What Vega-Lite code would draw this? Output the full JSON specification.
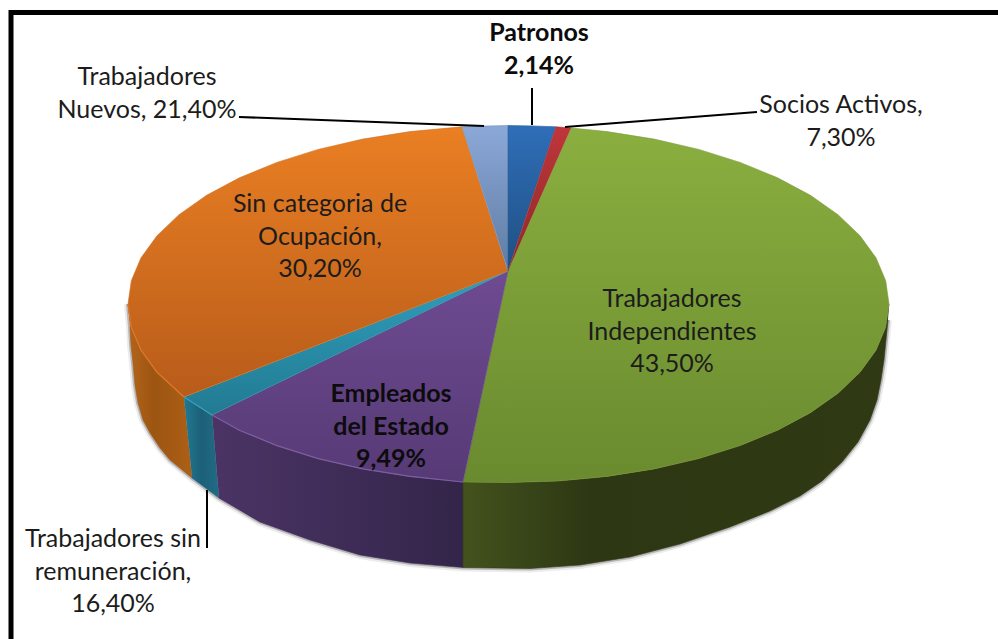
{"$schema":"https://vega.github.io/schema/vega-lite/v6.json","width":998,"height":639,"padding":0,"autosize":{"type":"none"},"background":"white","config":{"view":{"stroke":null}},
"datasets":{"shape":[
{"p":"sombra","i":1,"x":128,"y":304},{"p":"sombra","i":2,"x":130,"y":327},{"p":"sombra","i":3,"x":131,"y":345},{"p":"sombra","i":4,"x":133,"y":363},{"p":"sombra","i":5,"x":135,"y":385},{"p":"sombra","i":6,"x":138,"y":403},{"p":"sombra","i":7,"x":143,"y":420},{"p":"sombra","i":8,"x":150,"y":433},{"p":"sombra","i":9,"x":160,"y":448},{"p":"sombra","i":10,"x":170,"y":460},{"p":"sombra","i":11,"x":192,"y":478},{"p":"sombra","i":12,"x":219,"y":498},{"p":"sombra","i":13,"x":260,"y":522},{"p":"sombra","i":14,"x":310,"y":540},{"p":"sombra","i":15,"x":360,"y":555},{"p":"sombra","i":16,"x":410,"y":563},{"p":"sombra","i":17,"x":463,"y":567.5},{"p":"sombra","i":18,"x":530,"y":568.5},{"p":"sombra","i":19,"x":580,"y":565},{"p":"sombra","i":20,"x":630,"y":557},{"p":"sombra","i":21,"x":680,"y":544},{"p":"sombra","i":22,"x":730,"y":527},{"p":"sombra","i":23,"x":770,"y":511},{"p":"sombra","i":24,"x":800,"y":496},{"p":"sombra","i":25,"x":822,"y":481},{"p":"sombra","i":26,"x":842,"y":462},{"p":"sombra","i":27,"x":858,"y":442},{"p":"sombra","i":28,"x":870,"y":420},{"p":"sombra","i":29,"x":877,"y":400},{"p":"sombra","i":30,"x":881,"y":380},{"p":"sombra","i":31,"x":884,"y":360},{"p":"sombra","i":32,"x":886,"y":340},{"p":"sombra","i":33,"x":888,"y":320},
{"p":"pared naranja","i":1,"x":128,"y":304},{"p":"pared naranja","i":2,"x":131.3,"y":327.3},{"p":"pared naranja","i":3,"x":141,"y":350.2},{"p":"pared naranja","i":4,"x":157,"y":372.3},{"p":"pared naranja","i":5,"x":184,"y":397},{"p":"pared naranja","i":6,"x":192,"y":478},{"p":"pared naranja","i":7,"x":170,"y":460},{"p":"pared naranja","i":8,"x":160,"y":448},{"p":"pared naranja","i":9,"x":150,"y":433},{"p":"pared naranja","i":10,"x":143,"y":420},{"p":"pared naranja","i":11,"x":138,"y":403},{"p":"pared naranja","i":12,"x":135,"y":385},{"p":"pared naranja","i":13,"x":133,"y":363},{"p":"pared naranja","i":14,"x":131,"y":345},{"p":"pared naranja","i":15,"x":130,"y":327},
{"p":"pared teal","i":1,"x":184,"y":397},{"p":"pared teal","i":2,"x":212,"y":415},{"p":"pared teal","i":3,"x":219,"y":498},{"p":"pared teal","i":4,"x":192,"y":478},
{"p":"pared morada","i":1,"x":212,"y":415},{"p":"pared morada","i":2,"x":239.4,"y":430.2},{"p":"pared morada","i":3,"x":276.9,"y":445.6},{"p":"pared morada","i":4,"x":318.2,"y":458.6},{"p":"pared morada","i":5,"x":362.9,"y":468.9},{"p":"pared morada","i":6,"x":410,"y":476.4},{"p":"pared morada","i":7,"x":463,"y":482},{"p":"pared morada","i":8,"x":463,"y":567.5},{"p":"pared morada","i":9,"x":410,"y":563},{"p":"pared morada","i":10,"x":360,"y":555},{"p":"pared morada","i":11,"x":310,"y":540},{"p":"pared morada","i":12,"x":260,"y":522},{"p":"pared morada","i":13,"x":219,"y":498},
{"p":"pared verde","i":1,"x":889,"y":304},{"p":"pared verde","i":2,"x":885.7,"y":327.3},{"p":"pared verde","i":3,"x":876,"y":350.2},{"p":"pared verde","i":4,"x":860,"y":372.3},{"p":"pared verde","i":5,"x":838,"y":393.3},{"p":"pared verde","i":6,"x":810.4,"y":412.7},{"p":"pared verde","i":7,"x":777.6,"y":430.2},{"p":"pared verde","i":8,"x":740.1,"y":445.6},{"p":"pared verde","i":9,"x":698.8,"y":458.6},{"p":"pared verde","i":10,"x":654.1,"y":468.9},{"p":"pared verde","i":11,"x":607,"y":476.4},{"p":"pared verde","i":12,"x":558.2,"y":481},{"p":"pared verde","i":13,"x":508.5,"y":482.5},{"p":"pared verde","i":14,"x":463,"y":482},{"p":"pared verde","i":15,"x":463,"y":567.5},{"p":"pared verde","i":16,"x":530,"y":568.5},{"p":"pared verde","i":17,"x":580,"y":565},{"p":"pared verde","i":18,"x":630,"y":557},{"p":"pared verde","i":19,"x":680,"y":544},{"p":"pared verde","i":20,"x":730,"y":527},{"p":"pared verde","i":21,"x":770,"y":511},{"p":"pared verde","i":22,"x":800,"y":496},{"p":"pared verde","i":23,"x":822,"y":481},{"p":"pared verde","i":24,"x":842,"y":462},{"p":"pared verde","i":25,"x":858,"y":442},{"p":"pared verde","i":26,"x":870,"y":420},{"p":"pared verde","i":27,"x":877,"y":400},{"p":"pared verde","i":28,"x":881,"y":380},{"p":"pared verde","i":29,"x":884,"y":360},{"p":"pared verde","i":30,"x":886,"y":340},{"p":"pared verde","i":31,"x":888,"y":320},
{"p":"Trabajadores Independientes","i":1,"x":508,"y":271},{"p":"Trabajadores Independientes","i":2,"x":571,"y":128},{"p":"Trabajadores Independientes","i":3,"x":607,"y":131.6},{"p":"Trabajadores Independientes","i":4,"x":654.1,"y":139.1},{"p":"Trabajadores Independientes","i":5,"x":698.8,"y":149.4},{"p":"Trabajadores Independientes","i":6,"x":740.1,"y":162.4},{"p":"Trabajadores Independientes","i":7,"x":777.6,"y":177.8},{"p":"Trabajadores Independientes","i":8,"x":810.4,"y":195.3},{"p":"Trabajadores Independientes","i":9,"x":838,"y":214.7},{"p":"Trabajadores Independientes","i":10,"x":860,"y":235.7},{"p":"Trabajadores Independientes","i":11,"x":876,"y":257.8},{"p":"Trabajadores Independientes","i":12,"x":885.7,"y":280.7},{"p":"Trabajadores Independientes","i":13,"x":889,"y":304},{"p":"Trabajadores Independientes","i":14,"x":885.7,"y":327.3},{"p":"Trabajadores Independientes","i":15,"x":876,"y":350.2},{"p":"Trabajadores Independientes","i":16,"x":860,"y":372.3},{"p":"Trabajadores Independientes","i":17,"x":838,"y":393.3},{"p":"Trabajadores Independientes","i":18,"x":810.4,"y":412.7},{"p":"Trabajadores Independientes","i":19,"x":777.6,"y":430.2},{"p":"Trabajadores Independientes","i":20,"x":740.1,"y":445.6},{"p":"Trabajadores Independientes","i":21,"x":698.8,"y":458.6},{"p":"Trabajadores Independientes","i":22,"x":654.1,"y":468.9},{"p":"Trabajadores Independientes","i":23,"x":607,"y":476.4},{"p":"Trabajadores Independientes","i":24,"x":558.2,"y":481},{"p":"Trabajadores Independientes","i":25,"x":508.5,"y":482.5},{"p":"Trabajadores Independientes","i":26,"x":463,"y":482},
{"p":"Empleados del Estado","i":1,"x":508,"y":271},{"p":"Empleados del Estado","i":2,"x":463,"y":482},{"p":"Empleados del Estado","i":3,"x":410,"y":476.4},{"p":"Empleados del Estado","i":4,"x":362.9,"y":468.9},{"p":"Empleados del Estado","i":5,"x":318.2,"y":458.6},{"p":"Empleados del Estado","i":6,"x":276.9,"y":445.6},{"p":"Empleados del Estado","i":7,"x":239.4,"y":430.2},{"p":"Empleados del Estado","i":8,"x":212,"y":415},
{"p":"Trabajadores sin remuneración","i":1,"x":508,"y":271},{"p":"Trabajadores sin remuneración","i":2,"x":212,"y":415},{"p":"Trabajadores sin remuneración","i":3,"x":184,"y":397},
{"p":"Sin categoria de Ocupación","i":1,"x":508,"y":271},{"p":"Sin categoria de Ocupación","i":2,"x":184,"y":397},{"p":"Sin categoria de Ocupación","i":3,"x":157,"y":372.3},{"p":"Sin categoria de Ocupación","i":4,"x":141,"y":350.2},{"p":"Sin categoria de Ocupación","i":5,"x":131.3,"y":327.3},{"p":"Sin categoria de Ocupación","i":6,"x":128,"y":304},{"p":"Sin categoria de Ocupación","i":7,"x":131.3,"y":280.7},{"p":"Sin categoria de Ocupación","i":8,"x":141,"y":257.8},{"p":"Sin categoria de Ocupación","i":9,"x":157,"y":235.7},{"p":"Sin categoria de Ocupación","i":10,"x":179,"y":214.7},{"p":"Sin categoria de Ocupación","i":11,"x":206.6,"y":195.3},{"p":"Sin categoria de Ocupación","i":12,"x":239.4,"y":177.8},{"p":"Sin categoria de Ocupación","i":13,"x":276.9,"y":162.4},{"p":"Sin categoria de Ocupación","i":14,"x":318.2,"y":149.4},{"p":"Sin categoria de Ocupación","i":15,"x":362.9,"y":139.1},{"p":"Sin categoria de Ocupación","i":16,"x":410,"y":131.6},{"p":"Sin categoria de Ocupación","i":17,"x":462,"y":126.8},
{"p":"Trabajadores Nuevos","i":1,"x":508,"y":271},{"p":"Trabajadores Nuevos","i":2,"x":462,"y":126.8},{"p":"Trabajadores Nuevos","i":3,"x":485,"y":126},{"p":"Trabajadores Nuevos","i":4,"x":508,"y":125.5},
{"p":"Patronos","i":1,"x":508,"y":271},{"p":"Patronos","i":2,"x":508,"y":125.5},{"p":"Patronos","i":3,"x":532,"y":125.9},{"p":"Patronos","i":4,"x":556,"y":126.8},
{"p":"Socios Activos","i":1,"x":508,"y":271},{"p":"Socios Activos","i":2,"x":556,"y":126.8},{"p":"Socios Activos","i":3,"x":571,"y":128},
{"p":"marco","i":1,"x":11,"y":639},{"p":"marco","i":2,"x":11,"y":12.5},{"p":"marco","i":3,"x":998,"y":12.5},
{"p":"guía Nuevos","i":1,"x":239,"y":117},{"p":"guía Nuevos","i":2,"x":484,"y":126},
{"p":"guía Patronos","i":1,"x":532,"y":88},{"p":"guía Patronos","i":2,"x":532,"y":125},
{"p":"guía Socios","i":1,"x":757,"y":112},{"p":"guía Socios","i":2,"x":565,"y":127},
{"p":"guía sin remuneración","i":1,"x":207,"y":490},{"p":"guía sin remuneración","i":2,"x":207,"y":548}
],
"labels":[
{"label":"Patronos\n2,14%","x":539,"y":33,"bold":true},
{"label":"Trabajadores\nNuevos, 21,40%","x":147,"y":77,"bold":false},
{"label":"Socios Activos,\n7,30%","x":841,"y":105,"bold":false},
{"label":"Sin categoria de\nOcupación,\n30,20%","x":320,"y":204,"bold":false},
{"label":"Trabajadores\nIndependientes\n43,50%","x":672,"y":299,"bold":false},
{"label":"Empleados\ndel Estado\n9,49%","x":391,"y":394,"bold":true},
{"label":"Trabajadores sin\nremuneración,\n16,40%","x":113,"y":539,"bold":false}
]},
"data":{"name":"shape"},
"encoding":{"x":{"field":"x","type":"quantitative","scale":{"domain":[0,998]},"axis":null},"y":{"field":"y","type":"quantitative","scale":{"domain":[639,0]},"axis":null},"order":{"field":"i"}},
"layer":[
{"transform":[{"filter":"datum.p==='sombra'"}],"mark":{"type":"line","stroke":"#ececec","strokeWidth":8}},
{"transform":[{"filter":"datum.p==='sombra'"}],"mark":{"type":"line","stroke":"#b8b8b8","strokeWidth":4}},
{"transform":[{"filter":"datum.p==='pared naranja'"}],"mark":{"type":"line","stroke":"#a55b14","strokeWidth":0.6,"fill":{"gradient":"linear","x1":0,"y1":0,"x2":1,"y2":0,"stops":[{"offset":0,"color":"#b5651a"},{"offset":0.4,"color":"#9c5512"},{"offset":1,"color":"#ad5f15"}]}}},
{"transform":[{"filter":"datum.p==='pared teal'"}],"mark":{"type":"line","stroke":"#1e6a82","strokeWidth":0.6,"fill":{"gradient":"linear","x1":0,"y1":0,"x2":1,"y2":0,"stops":[{"offset":0,"color":"#1f7a92"},{"offset":0.5,"color":"#1d5f78"},{"offset":1,"color":"#206c85"}]}}},
{"transform":[{"filter":"datum.p==='pared morada'"}],"mark":{"type":"line","stroke":"#3d2b55","strokeWidth":0.6,"fill":{"gradient":"linear","x1":0,"y1":0,"x2":1,"y2":0,"stops":[{"offset":0,"color":"#4b3465"},{"offset":1,"color":"#33254a"}]}}},
{"transform":[{"filter":"datum.p==='pared verde'"}],"mark":{"type":"line","stroke":"#303b15","strokeWidth":0.6,"fill":{"gradient":"linear","x1":0,"y1":0,"x2":1,"y2":0,"stops":[{"offset":0,"color":"#43521d"},{"offset":0.3,"color":"#2d3713"},{"offset":1,"color":"#2f3a14"}]}}},
{"transform":[{"filter":"datum.p==='Trabajadores Independientes'"}],"mark":{"type":"line","stroke":"#7a9b37","strokeWidth":0.6,"fill":{"gradient":"linear","x1":0,"y1":0,"x2":0,"y2":1,"stops":[{"offset":0,"color":"#8aaf3f"},{"offset":1,"color":"#6a8a2f"}]}}},
{"transform":[{"filter":"datum.p==='Empleados del Estado'"}],"mark":{"type":"line","stroke":"#624384","strokeWidth":0.6,"fill":{"gradient":"linear","x1":0,"y1":0,"x2":0,"y2":1,"stops":[{"offset":0,"color":"#6f4b92"},{"offset":1,"color":"#563a75"}]}}},
{"transform":[{"filter":"datum.p==='Trabajadores sin remuneración'"}],"mark":{"type":"line","stroke":"#268ca7","strokeWidth":0.6,"fill":{"gradient":"linear","x1":0,"y1":0,"x2":0,"y2":1,"stops":[{"offset":0,"color":"#2f9fbd"},{"offset":1,"color":"#227a92"}]}}},
{"transform":[{"filter":"datum.p==='Sin categoria de Ocupación'"}],"mark":{"type":"line","stroke":"#d26e1e","strokeWidth":0.6,"fill":{"gradient":"linear","x1":0,"y1":0,"x2":0,"y2":1,"stops":[{"offset":0,"color":"#ea7f23"},{"offset":1,"color":"#b85c1a"}]}}},
{"transform":[{"filter":"datum.p==='Trabajadores Nuevos'"}],"mark":{"type":"line","stroke":"#7592bd","strokeWidth":0.6,"fill":{"gradient":"linear","x1":0,"y1":0,"x2":0,"y2":1,"stops":[{"offset":0,"color":"#8ba8d8"},{"offset":1,"color":"#5f7ca3"}]}}},
{"transform":[{"filter":"datum.p==='Patronos'"}],"mark":{"type":"line","stroke":"#275e9c","strokeWidth":0.6,"fill":{"gradient":"linear","x1":0,"y1":0,"x2":0,"y2":1,"stops":[{"offset":0,"color":"#2f6eb8"},{"offset":1,"color":"#1f4f82"}]}}},
{"transform":[{"filter":"datum.p==='Socios Activos'"}],"mark":{"type":"line","stroke":"#a52f32","strokeWidth":0.6,"fill":{"gradient":"linear","x1":0,"y1":0,"x2":0,"y2":1,"stops":[{"offset":0,"color":"#c0353a"},{"offset":1,"color":"#8a2a2a"}]}}},
{"transform":[{"filter":"datum.p==='Empleados del Estado' && datum.i>1"}],"mark":{"type":"line","stroke":"#7d5da0","strokeWidth":1.2}},
{"transform":[{"filter":"datum.p==='Sin categoria de Ocupación' && datum.i>1 && datum.i<7"}],"mark":{"type":"line","stroke":"#d9782a","strokeWidth":1.2}},
{"transform":[{"filter":"datum.p==='Trabajadores sin remuneración' && datum.i>1"}],"mark":{"type":"line","stroke":"#36a0bb","strokeWidth":1.2}},
{"transform":[{"filter":"indexof(datum.p,'guía')===0"}],"mark":{"type":"line","stroke":"#000000","strokeWidth":2},"encoding":{"detail":{"field":"p"}}},
{"transform":[{"filter":"datum.p==='marco'"}],"mark":{"type":"line","stroke":"#000000","strokeWidth":5,"strokeJoin":"miter"}},
{"data":{"name":"labels"},"transform":[{"filter":"!datum.bold"}],"mark":{"type":"text","font":"Lato","fontSize":25,"lineHeight":32.5,"lineBreak":"\n","align":"center","baseline":"middle","color":"#1c1c1c"},"encoding":{"text":{"field":"label"},"order":null}},
{"data":{"name":"labels"},"transform":[{"filter":"datum.bold"}],"mark":{"type":"text","font":"Lato","fontSize":25,"fontWeight":"bold","lineHeight":32.5,"lineBreak":"\n","align":"center","baseline":"middle","color":"#0c0c0c"},"encoding":{"text":{"field":"label"},"order":null}}
]}
